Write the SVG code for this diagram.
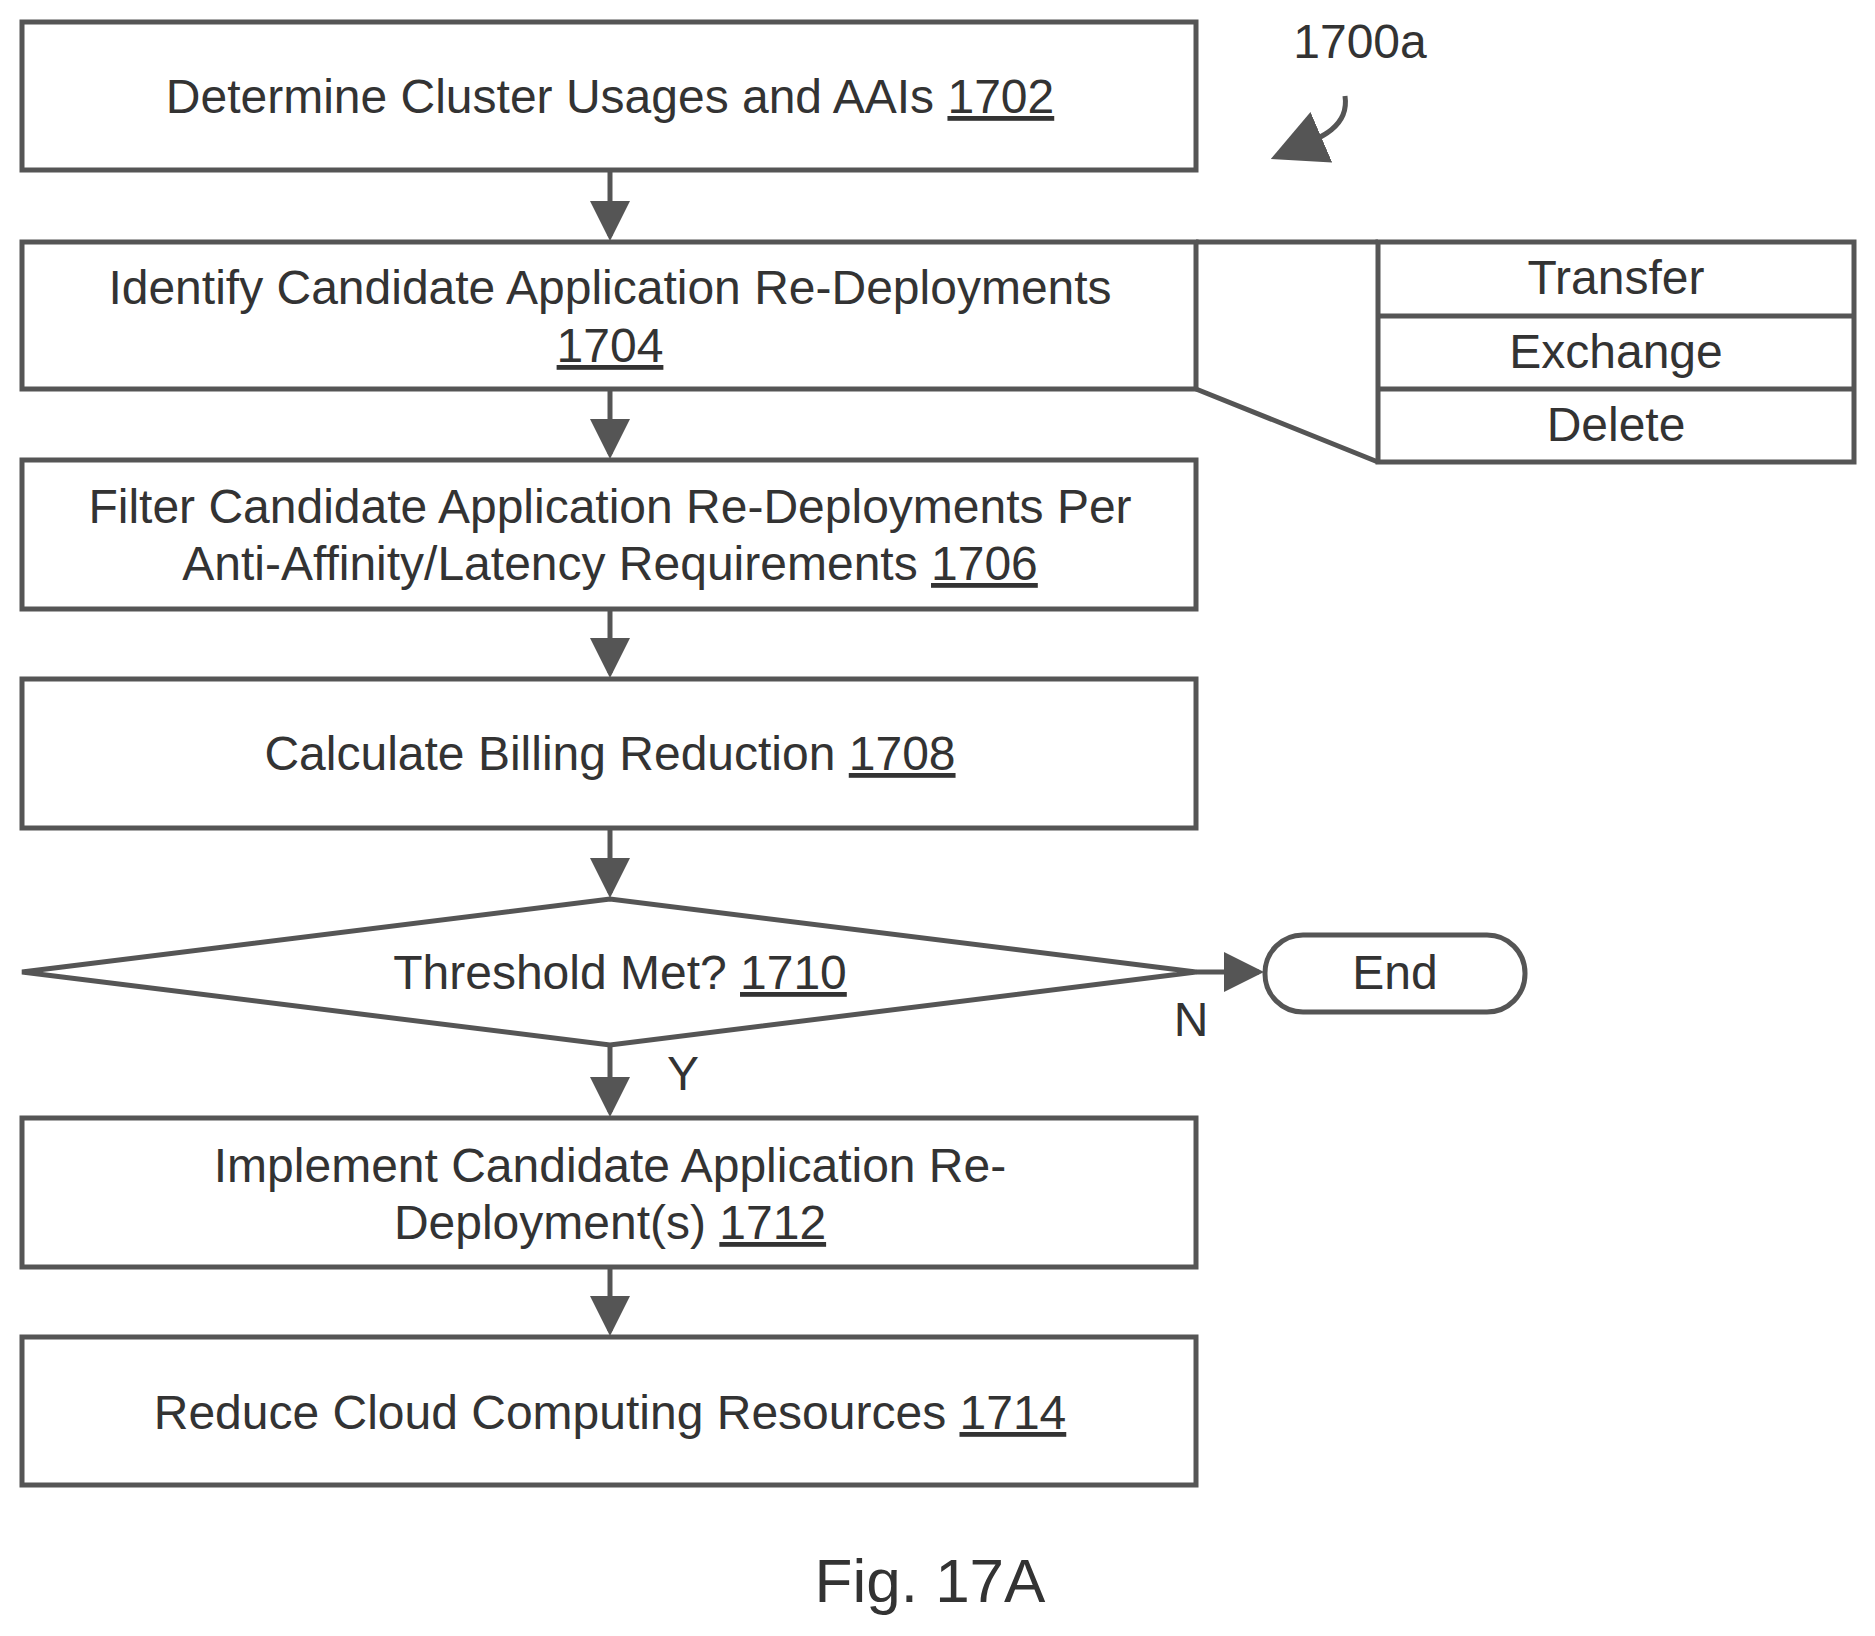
<svg xmlns="http://www.w3.org/2000/svg" width="1875" height="1636" viewBox="0 0 1875 1636">
<style>
.b{fill:#fff;stroke:#555;stroke-width:5}
.l{fill:none;stroke:#555;stroke-width:5}
text{font-family:"Liberation Sans",Arial,sans-serif;font-size:48px;fill:#333;text-anchor:middle}
.u{text-decoration:underline}
</style>
<defs><marker id="a" markerWidth="8" markerHeight="8" refX="7" refY="4" orient="auto" markerUnits="strokeWidth"><path d="M0,0L8,4L0,8z" fill="#555"/></marker>
<marker id="c" markerWidth="11" markerHeight="11" refX="9" refY="5.5" orient="auto" markerUnits="strokeWidth"><path d="M0,0L11,5.5L0,11z" fill="#555"/></marker></defs>
<rect width="1875" height="1636" fill="#fff"/>
<g id="connectors">
<line class="l" x1="610" y1="170" x2="610" y2="236" marker-end="url(#a)"/>
<line class="l" x1="610" y1="389" x2="610" y2="454" marker-end="url(#a)"/>
<line class="l" x1="610" y1="609" x2="610" y2="673" marker-end="url(#a)"/>
<line class="l" x1="610" y1="828" x2="610" y2="893" marker-end="url(#a)"/>
<line class="l" x1="610" y1="1045" x2="610" y2="1112" marker-end="url(#a)"/>
<line class="l" x1="610" y1="1267" x2="610" y2="1331" marker-end="url(#a)"/>
<line class="l" x1="1196" y1="972" x2="1259" y2="972" marker-end="url(#a)"/>
<path class="l" d="M1196,242H1378M1196,389L1378,462"/>
<path class="l" d="M1345,96C1350,130 1315,140 1280,155" marker-end="url(#c)"/>
</g>
<g id="n1702"><rect class="b" x="22" y="22" width="1174" height="148"/><text x="610" y="113">Determine Cluster Usages and AAIs <tspan class="u">1702</tspan></text></g>
<g id="n1704"><rect class="b" x="22" y="242" width="1174" height="147"/><text x="610" y="304">Identify Candidate Application Re-Deployments</text><text x="610" y="362" class="u">1704</text></g>
<g id="table"><rect class="b" x="1378" y="242" width="476" height="220"/><line class="l" x1="1378" y1="316" x2="1854" y2="316"/><line class="l" x1="1378" y1="389" x2="1854" y2="389"/>
<text x="1616" y="294">Transfer</text><text x="1616" y="368">Exchange</text><text x="1616" y="441">Delete</text></g>
<g id="n1706"><rect class="b" x="22" y="460" width="1174" height="149"/><text x="610" y="523">Filter Candidate Application Re-Deployments Per</text><text x="610" y="580">Anti-Affinity/Latency Requirements <tspan class="u">1706</tspan></text></g>
<g id="n1708"><rect class="b" x="22" y="679" width="1174" height="149"/><text x="610" y="770">Calculate Billing Reduction <tspan class="u">1708</tspan></text></g>
<g id="n1710"><path class="b" d="M22,972L610,899L1196,972L610,1045z"/><text x="620" y="989">Threshold Met?  <tspan class="u">1710</tspan></text></g>
<g id="end"><rect class="b" x="1265" y="935" width="260" height="77" rx="38"/><text x="1395" y="989">End</text></g>
<text x="1191" y="1036">N</text>
<text x="683" y="1090">Y</text>
<g id="n1712"><rect class="b" x="22" y="1118" width="1174" height="149"/><text x="610" y="1182">Implement Candidate Application Re-</text><text x="610" y="1239">Deployment(s) <tspan class="u">1712</tspan></text></g>
<g id="n1714"><rect class="b" x="22" y="1337" width="1174" height="148"/><text x="610" y="1429">Reduce Cloud Computing Resources <tspan class="u">1714</tspan></text></g>
<text x="1360" y="58">1700a</text>
<text x="930" y="1602" style="font-size:62px">Fig. 17A</text>
</svg>
